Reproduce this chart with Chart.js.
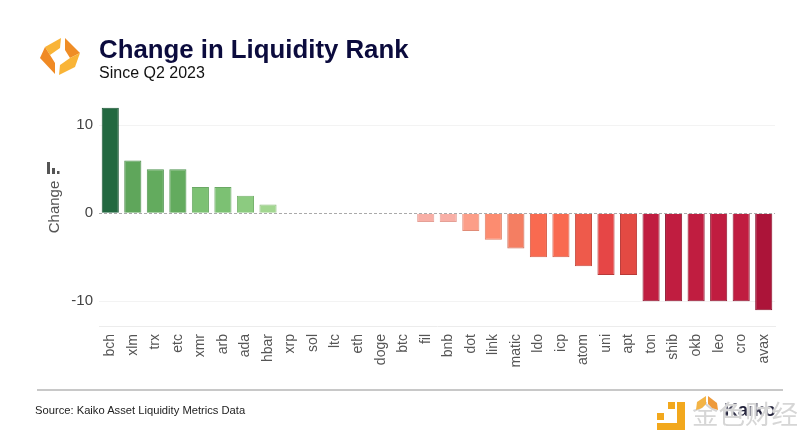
<!DOCTYPE html>
<html>
<head>
<meta charset="utf-8">
<script src="https://cdn.jsdelivr.net/npm/chart.js@4/dist/chart.umd.min.js"></script>
<style>
  html, body { margin: 0; padding: 0; background: #fff; overflow: hidden; }
  #wrap { position: relative; width: 811px; height: 442px; font-family: "Liberation Sans", Arial, sans-serif; }
  #chart { position: absolute; left: 0; top: 0; }
  .txt { position: absolute; white-space: nowrap; }
  #title { left: 99px; top: 35px; font-size: 25.8px; font-weight: bold; color: #0b0b3d; }
  #subtitle { left: 99px; top: 64px; font-size: 16px; color: #111; }
  #axis-title { left: 53px; top: 207px; font-size: 15px; color: #555; transform: translate(-50%, -50%) rotate(-90deg); }
  #rule { position: absolute; left: 37px; top: 389px; width: 746px; height: 2px; background: #c8c8c8; }
  #source { left: 35px; top: 404px; font-size: 11.2px; color: #222; }
  #brand { left: 724px; top: 399px; font-size: 19px; font-weight: bold; color: #1a1a33; }
  #mark { left: 692px; top: 393px; font-size: 26.5px; font-family: "Noto Sans CJK SC"; color: #d6d6d6; text-shadow: 0 0 2px #fff, 0 0 2px #fff; }
</style>
</head>
<body>
<div id="wrap">
  <canvas id="chart" width="811" height="442"></canvas>
  <svg class="txt" style="left:0;top:0" width="811" height="442">
    <polygon points="61,38 45,47 50,55 60,48" fill="#f9b437"/>
    <polygon points="45,47 40,58 55,74 55,63 50,55" fill="#f08a24"/>
    <polygon points="65,38 80,53 70,58 65,50" fill="#ef8d26"/>
    <polygon points="80,53 75,67 59,75 60,65 70,58" fill="#f9b437"/>
    <rect x="47" y="162" width="3" height="12" fill="#555"/>
    <rect x="52" y="168" width="3" height="6" fill="#555"/>
    <rect x="57" y="171" width="2.5" height="3" fill="#555"/>
    <polygon points="677,402 685,402 685,430 657,430 657,423 677,423" fill="#f2a81d"/>
    <rect x="668" y="402" width="7" height="7" fill="#f2a81d"/>
    <rect x="657" y="413" width="7" height="7" fill="#f2a81d"/>
  </svg>
  <div class="txt" id="brand">Kaiko</div>
  <div class="txt" id="mark">金色财经</div>
  <svg class="txt" style="left:0;top:0" width="811" height="442">
    <polygon points="706,396 697,402 696,410 702,408 706,404" fill="#f3b446"/>
    <polygon points="708,396 717,403 718,410 712,408 708,404" fill="#ee9a3a"/>
  </svg>
  <div class="txt" id="title">Change in Liquidity Rank</div>
  <div class="txt" id="subtitle">Since Q2 2023</div>
  <div class="txt" id="axis-title">Change</div>
  <div id="rule"></div>
  <div class="txt" id="source">Source: Kaiko Asset Liquidity Metrics Data</div>
</div>
<script>
const assets = ['bch','xlm','trx','etc','xmr','arb','ada','hbar','xrp','sol','ltc','eth','doge','btc','fil','bnb','dot','link','matic','ldo','icp','atom','uni','apt','ton','shib','okb','leo','cro','avax'];
const rankChange = [12,6,5,5,3,3,2,1,0,0,0,0,0,0,-1,-1,-2,-3,-4,-5,-5,-6,-7,-7,-10,-10,-10,-10,-10,-11];
const yTicks = [-10,0,10];
const barColors = ['#226840','#5fa65b','#63ab5e','#63ab5e','#7cc173','#7cc173','#8ccb80','#a2d690','#ccc','#ccc','#ccc','#ccc','#ccc','#ccc','#f8afa6','#f8afa6','#fc9e88','#fc8c70','#f47e62','#f96a50','#f96a50','#ee5a4b','#e64646','#e34a43','#c01d40','#c01d40','#c01d40','#c01d40','#c01d40','#ac1439'];
const barBorders = ['#1c5535','#4f8f4d','#4f9450','#4f9450','#6aa864','#6aa864','#78b26e','#8cbc7c','#ccc','#ccc','#ccc','#ccc','#ccc','#ccc','#e5a096','#e5a096','#e08c78','#e07c62','#c96a54','#d45c46','#d45c46','#c44c40','#b83a3a','#b83a38','#8e1830','#8e1830','#8e1830','#8e1830','#8e1830','#8a102c'];

const zeroLine = {
  id: 'zeroLine',
  afterDatasetsDraw(chart) {
    const { ctx, chartArea, scales } = chart;
    const y = Math.round(scales.y.getPixelForValue(0)) + 0.5;
    ctx.save();
    ctx.strokeStyle = '#aaa';
    ctx.lineWidth = 1;
    ctx.setLineDash([3, 2]);
    ctx.beginPath();
    ctx.moveTo(chartArea.left, y);
    ctx.lineTo(chartArea.right, y);
    ctx.stroke();
    ctx.restore();
  }
};

new Chart(document.getElementById('chart').getContext('2d'), {
  type: 'bar',
  data: {
    labels: assets,
    datasets: [{
      data: rankChange,
      backgroundColor: barColors,
      borderColor: barBorders,
      borderWidth: 1,
      categoryPercentage: 1,
      barPercentage: 0.76
    }]
  },
  options: {
    responsive: false,
    animation: false,
    layout: { padding: { left: 60, right: 36, top: 105, bottom: 40 } },
    plugins: { legend: { display: false }, tooltip: { enabled: false } },
    scales: {
      x: {
        afterFit(scale) { scale.height = 76; },
        grid: { display: false },
        border: { color: '#ececec' },
        ticks: {
          autoSkip: false,
          minRotation: 90,
          maxRotation: 90,
          padding: 0,
          font: { family: '"Liberation Sans"', size: 14 },
          color: '#555'
        }
      },
      y: {
        min: -12.8,
        max: 12.3,
        afterFit(scale) { scale.width = 39; },
        afterBuildTicks(scale) { scale.ticks = yTicks.map(value => ({ value })); },
        grid: { color: ctx => ctx.tick.value === 0 ? 'transparent' : '#f3f3f3', drawTicks: false },
        border: { display: false },
        ticks: {
          padding: 6,
          font: { family: '"Liberation Sans"', size: 15 },
          color: '#444'
        }
      }
    }
  },
  plugins: [zeroLine]
});
</script>
</body>
</html>
